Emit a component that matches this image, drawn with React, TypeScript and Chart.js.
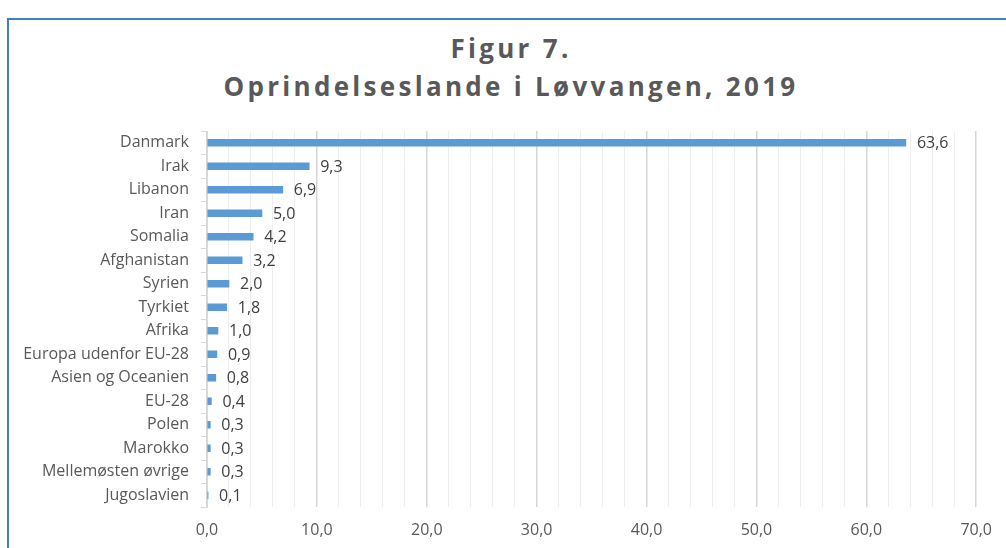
import React, { useEffect, useRef } from "react";
import { Chart, registerables } from "chart.js";

Chart.register(...registerables);

const categories = [
  "Danmark",
  "Irak",
  "Libanon",
  "Iran",
  "Somalia",
  "Afghanistan",
  "Syrien",
  "Tyrkiet",
  "Afrika",
  "Europa udenfor EU-28",
  "Asien og Oceanien",
  "EU-28",
  "Polen",
  "Marokko",
  "Mellemøsten øvrige",
  "Jugoslavien",
];
const values = [63.6, 9.3, 6.9, 5.0, 4.2, 3.2, 2.0, 1.8, 1.0, 0.9, 0.8, 0.4, 0.3, 0.3, 0.3, 0.1];
const titleLines = ["Figur 7.", "Oprindelseslande i Løvvangen, 2019"];
const xMax = 70;
const xStep = 2;
const xLabelStep = 10;

const fmt = (v: number) => v.toFixed(1).replace(".", ",");

const FONT = "'Open Sans', 'Liberation Sans', sans-serif";

const valueLabels = {
  id: "valueLabels",
  afterDatasetsDraw(chart: any) {
    const ctx = chart.ctx;
    const meta = chart.getDatasetMeta(0);
    ctx.save();
    ctx.font = `16px ${FONT}`;
    ctx.fillStyle = "#404040";
    ctx.textAlign = "left";
    ctx.textBaseline = "middle";
    meta.data.forEach((bar: any, i: number) => {
      ctx.fillText(fmt(values[i]), bar.x + 11, bar.y + 1);
    });
    ctx.restore();
  },
};

export default function App() {
  const ref = useRef<HTMLCanvasElement | null>(null);
  useEffect(() => {
    if (!ref.current) return;
    const chart = new Chart(ref.current, {
      type: "bar",
      data: {
        labels: categories,
        datasets: [
          {
            data: values,
            backgroundColor: "#5B9BD5",
            barThickness: 7,
          },
        ],
      },
      options: {
        indexAxis: "y",
        animation: false,
        responsive: false,
        layout: { padding: { top: 131, right: 29, left: 0, bottom: 0 } },
        plugins: {
          legend: { display: false },
          title: { display: false },
          tooltip: { enabled: false },
        },
        scales: {
          x: {
            min: 0,
            max: xMax,
            afterFit: (s: any) => {
              s.height = 41;
            },
            ticks: {
              stepSize: xStep,
              autoSkip: false,
              maxRotation: 0,
              padding: 14,
              color: "#595959",
              font: { family: FONT, size: 16 },
              callback: (v: any) => (Number(v) % xLabelStep === 0 ? fmt(Number(v)) : ""),
            },
            grid: {
              drawTicks: false,
              color: (c: any) =>
                c.tick && Math.round(c.tick.value) % xLabelStep === 0 ? "#d6d6d6" : "#eeeeee",
              lineWidth: (c: any) =>
                c.tick && Math.round(c.tick.value) % xLabelStep === 0 ? 1.5 : 1,
            },
            border: { display: false },
          },
          y: {
            afterFit: (s: any) => {
              s.width = 207;
            },
            ticks: {
              color: "#595959",
              padding: 12,
              autoSkip: false,
              font: { family: FONT, size: 16 },
            },
            grid: {
              drawOnChartArea: false,
              drawTicks: true,
              tickLength: 6,
              color: "#d9d9d9",
              offset: true,
            },
            border: { display: true, color: "#d9d9d9" },
          },
        },
      },
      plugins: [valueLabels],
    });
    return () => chart.destroy();
  }, []);

  return (
    <div
      style={{
        position: "absolute",
        left: 0,
        top: 0,
        width: 1006,
        height: 548,
        overflow: "hidden",
        background: "#fff",
      }}
    >
      <div
        style={{
          position: "absolute",
          left: 7,
          top: 18,
          width: 1020,
          height: 560,
          border: "2px solid #3f7fc4",
          boxSizing: "border-box",
        }}
      />
      <div
        style={{
          position: "absolute",
          left: 0,
          top: 29,
          width: 1022,
          textAlign: "center",
          fontFamily: FONT,
          fontWeight: 700,
          fontSize: 26,
          lineHeight: "38px",
          letterSpacing: 3.3,
          color: "#595959",
        }}
      >
        {titleLines.map((t) => (
          <div key={t}>{t}</div>
        ))}
      </div>
      <canvas
        ref={ref}
        width={1006}
        height={548}
        style={{ position: "absolute", left: 0, top: 0, width: 1006, height: 548 }}
      />
    </div>
  );
}
